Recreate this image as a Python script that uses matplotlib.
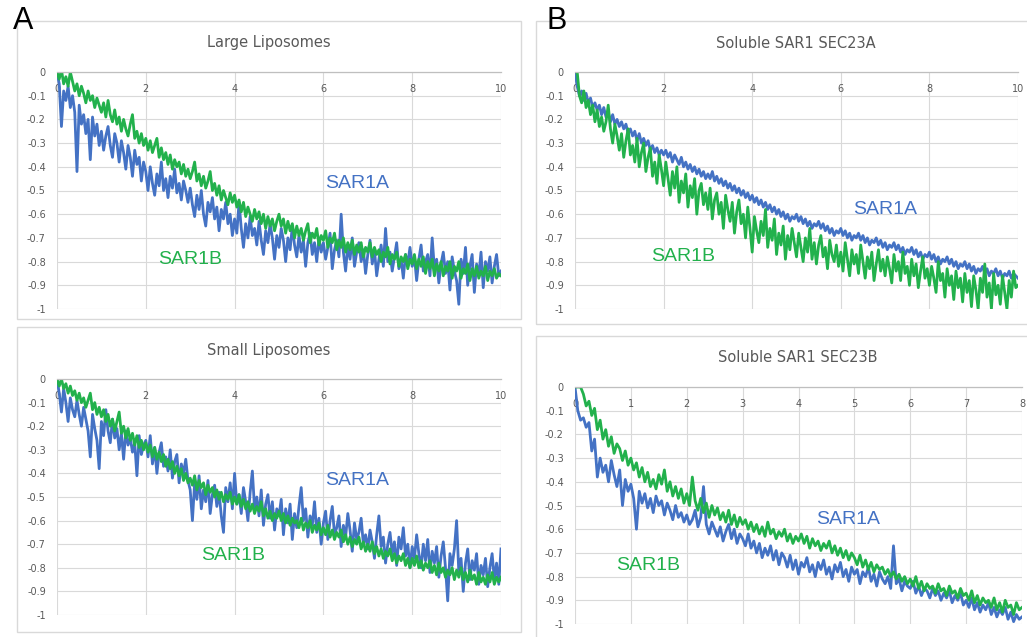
import numpy as np
import matplotlib.pyplot as plt
from matplotlib.patches import Rectangle

BLUE = '#4472c4'
GREEN = '#22b14c'
GREY = '#595959'
GRID = '#d9d9d9'

W, H = 1027, 637

# readings every 0.05 min; one row = one minute

# Large liposomes, 0-10 min
large_sar1a = [
    0.00, -0.05, -0.23, -0.08, -0.12, -0.06, -0.15, -0.10, -0.17, -0.42, -0.14, -0.22, -0.18, -0.26, -0.20, -0.37, -0.19, -0.27, -0.22, -0.31,
    -0.25, -0.33, -0.27, -0.23, -0.31, -0.36, -0.26, -0.30, -0.38, -0.29, -0.34, -0.41, -0.31, -0.36, -0.44, -0.33, -0.39, -0.36, -0.46, -0.38,
    -0.42, -0.50, -0.40, -0.47, -0.52, -0.43, -0.48, -0.38, -0.50, -0.45, -0.53, -0.44, -0.49, -0.41, -0.51, -0.47, -0.54, -0.46, -0.50, -0.55,
    -0.49, -0.56, -0.61, -0.52, -0.58, -0.50, -0.60, -0.65, -0.55, -0.59, -0.53, -0.62, -0.57, -0.67, -0.58, -0.62, -0.55, -0.64, -0.60, -0.69,
    -0.62, -0.68, -0.55, -0.66, -0.74, -0.64, -0.70, -0.61, -0.69, -0.66, -0.73, -0.63, -0.71, -0.77, -0.67, -0.72, -0.64, -0.70, -0.79, -0.69,
    -0.74, -0.66, -0.71, -0.80, -0.70, -0.75, -0.65, -0.73, -0.78, -0.69, -0.76, -0.71, -0.82, -0.72, -0.68, -0.77, -0.72, -0.80, -0.70, -0.76,
    -0.72, -0.79, -0.74, -0.68, -0.83, -0.75, -0.71, -0.78, -0.60, -0.76, -0.84, -0.73, -0.79, -0.70, -0.82, -0.76, -0.72, -0.80, -0.75, -0.85,
    -0.77, -0.71, -0.81, -0.75, -0.86, -0.79, -0.73, -0.82, -0.66, -0.80, -0.76, -0.84, -0.78, -0.72, -0.83, -0.79, -0.87, -0.77, -0.81, -0.74,
    -0.82, -0.78, -0.88, -0.79, -0.73, -0.84, -0.80, -0.77, -0.86, -0.70, -0.83, -0.79, -0.89, -0.81, -0.76, -0.85, -0.80, -0.92, -0.78, -0.84,
    -0.88, -0.98, -0.79, -0.85, -0.74, -0.90, -0.82, -0.77, -0.93, -0.81, -0.86, -0.76, -0.91, -0.80, -0.84, -0.78, -0.89, -0.82, -0.77, -0.86,
    -0.84]
large_sar1b = [
    0.00, -0.03, 0.01, -0.05, -0.02, -0.06, 0.00, -0.04, -0.08, -0.05, -0.10, -0.06, -0.09, -0.13, -0.08, -0.12, -0.10, -0.15, -0.11, -0.14,
    -0.17, -0.13, -0.19, -0.12, -0.18, -0.21, -0.16, -0.22, -0.19, -0.25, -0.20, -0.24, -0.27, -0.22, -0.18, -0.28, -0.25, -0.30, -0.26, -0.31,
    -0.28, -0.33, -0.29, -0.34, -0.31, -0.28, -0.36, -0.32, -0.37, -0.34, -0.39, -0.35, -0.41, -0.37, -0.40, -0.38, -0.43, -0.39, -0.44, -0.41,
    -0.45, -0.42, -0.38, -0.46, -0.43, -0.48, -0.44, -0.49, -0.46, -0.42, -0.50, -0.47, -0.52, -0.48, -0.54, -0.50, -0.53, -0.56, -0.51, -0.55,
    -0.52, -0.57, -0.54, -0.59, -0.55, -0.61, -0.57, -0.60, -0.63, -0.58, -0.62, -0.59, -0.64, -0.60, -0.66, -0.61, -0.65, -0.62, -0.67, -0.63,
    -0.60, -0.65, -0.62, -0.68, -0.63, -0.67, -0.64, -0.70, -0.65, -0.69, -0.66, -0.71, -0.67, -0.64, -0.72, -0.68, -0.70, -0.66, -0.73, -0.69,
    -0.71, -0.67, -0.74, -0.70, -0.72, -0.68, -0.75, -0.71, -0.74, -0.70, -0.76, -0.72, -0.75, -0.71, -0.77, -0.73, -0.76, -0.72, -0.78, -0.74,
    -0.76, -0.72, -0.78, -0.74, -0.77, -0.75, -0.80, -0.76, -0.78, -0.74, -0.81, -0.77, -0.79, -0.76, -0.82, -0.78, -0.80, -0.77, -0.83, -0.79,
    -0.81, -0.77, -0.83, -0.79, -0.82, -0.78, -0.85, -0.80, -0.83, -0.79, -0.86, -0.81, -0.84, -0.80, -0.86, -0.82, -0.84, -0.80, -0.87, -0.82,
    -0.84, -0.80, -0.87, -0.83, -0.85, -0.81, -0.88, -0.83, -0.86, -0.82, -0.87, -0.84, -0.86, -0.82, -0.88, -0.84, -0.86, -0.83, -0.87, -0.85,
    -0.86]

# Small liposomes, 0-10 min
small_sar1a = [
    0.00, -0.06, -0.14, -0.04, -0.10, -0.18, -0.08, -0.13, -0.16, -0.09, -0.15, -0.20, -0.12, -0.17, -0.22, -0.33, -0.15, -0.21, -0.26, -0.38,
    -0.18, -0.24, -0.13, -0.22, -0.27, -0.17, -0.25, -0.21, -0.30, -0.23, -0.34, -0.22, -0.28, -0.25, -0.31, -0.27, -0.41, -0.24, -0.32, -0.28,
    -0.26, -0.33, -0.24, -0.36, -0.29, -0.40, -0.31, -0.27, -0.37, -0.33, -0.39, -0.30, -0.42, -0.35, -0.32, -0.44, -0.36, -0.40, -0.34, -0.43,
    -0.47, -0.60, -0.44, -0.51, -0.41, -0.55, -0.47, -0.52, -0.43, -0.57, -0.49, -0.45, -0.54, -0.48, -0.58, -0.65, -0.46, -0.52, -0.44, -0.55,
    -0.40, -0.53, -0.49, -0.57, -0.46, -0.52, -0.60, -0.48, -0.39, -0.55, -0.50, -0.58, -0.47, -0.62, -0.53, -0.49, -0.59, -0.52, -0.64, -0.55,
    -0.58, -0.51, -0.66, -0.55, -0.61, -0.53, -0.68, -0.57, -0.63, -0.54, -0.46, -0.60, -0.55, -0.67, -0.58, -0.62, -0.52, -0.65, -0.59, -0.70,
    -0.61, -0.56, -0.68, -0.60, -0.54, -0.66, -0.63, -0.58, -0.71, -0.62, -0.67, -0.57, -0.64, -0.73, -0.61, -0.68, -0.65, -0.59, -0.70, -0.66,
    -0.72, -0.64, -0.69, -0.76, -0.66, -0.58, -0.71, -0.67, -0.78, -0.70, -0.65, -0.74, -0.69, -0.79, -0.67, -0.72, -0.63, -0.75, -0.70, -0.80,
    -0.71, -0.76, -0.66, -0.74, -0.80, -0.70, -0.77, -0.68, -0.82, -0.73, -0.78, -0.71, -0.84, -0.75, -0.69, -0.80, -0.94, -0.74, -0.79, -0.72,
    -0.60, -0.82, -0.76, -0.90, -0.78, -0.72, -0.85, -0.77, -0.81, -0.74, -0.87, -0.79, -0.83, -0.76, -0.88, -0.80, -0.74, -0.85, -0.78, -0.87,
    -0.72]
small_sar1b = [
    0.00, -0.03, 0.00, -0.04, -0.02, -0.06, -0.03, -0.07, -0.05, -0.09, -0.06, -0.10, -0.08, -0.12, -0.09, -0.06, -0.13, -0.10, -0.15, -0.12,
    -0.16, -0.13, -0.18, -0.15, -0.20, -0.17, -0.22, -0.18, -0.14, -0.23, -0.20, -0.25, -0.21, -0.26, -0.23, -0.28, -0.24, -0.29, -0.26, -0.30,
    -0.27, -0.31, -0.28, -0.33, -0.29, -0.34, -0.31, -0.35, -0.32, -0.37, -0.34, -0.38, -0.35, -0.40, -0.37, -0.41, -0.38, -0.43, -0.40, -0.44,
    -0.42, -0.45, -0.41, -0.47, -0.43, -0.46, -0.44, -0.49, -0.45, -0.48, -0.46, -0.50, -0.47, -0.51, -0.48, -0.52, -0.49, -0.51, -0.48, -0.53,
    -0.50, -0.53, -0.49, -0.54, -0.51, -0.55, -0.52, -0.56, -0.53, -0.57, -0.54, -0.56, -0.52, -0.58, -0.55, -0.59, -0.56, -0.60, -0.57, -0.59,
    -0.56, -0.60, -0.57, -0.61, -0.58, -0.62, -0.59, -0.61, -0.60, -0.63, -0.59, -0.64, -0.61, -0.63, -0.60, -0.65, -0.62, -0.64, -0.61, -0.66,
    -0.63, -0.66, -0.62, -0.67, -0.64, -0.68, -0.65, -0.67, -0.64, -0.69, -0.66, -0.70, -0.67, -0.71, -0.68, -0.70, -0.67, -0.72, -0.69, -0.73,
    -0.70, -0.73, -0.69, -0.74, -0.71, -0.75, -0.72, -0.76, -0.73, -0.75, -0.72, -0.77, -0.74, -0.78, -0.75, -0.77, -0.74, -0.79, -0.76, -0.80,
    -0.76, -0.79, -0.75, -0.80, -0.77, -0.81, -0.78, -0.80, -0.77, -0.82, -0.79, -0.83, -0.78, -0.82, -0.80, -0.84, -0.81, -0.83, -0.80, -0.85,
    -0.81, -0.84, -0.80, -0.85, -0.82, -0.86, -0.81, -0.85, -0.83, -0.87, -0.82, -0.86, -0.84, -0.87, -0.83, -0.86, -0.82, -0.87, -0.84, -0.86,
    -0.84]

# Soluble SAR1 + SEC23A, 0-10 min
sec23a_sar1a = [
    0.00, -0.06, -0.10, -0.08, -0.12, -0.09, -0.13, -0.11, -0.15, -0.13, -0.16, -0.14, -0.18, -0.15, -0.19, -0.17, -0.21, -0.18, -0.22, -0.20,
    -0.23, -0.21, -0.24, -0.22, -0.26, -0.24, -0.27, -0.25, -0.29, -0.26, -0.30, -0.28, -0.31, -0.29, -0.33, -0.31, -0.34, -0.32, -0.35, -0.33,
    -0.35, -0.33, -0.36, -0.34, -0.38, -0.35, -0.37, -0.39, -0.36, -0.40, -0.38, -0.41, -0.39, -0.42, -0.40, -0.43, -0.41, -0.44, -0.42, -0.45,
    -0.43, -0.45, -0.42, -0.46, -0.44, -0.47, -0.45, -0.48, -0.46, -0.49, -0.47, -0.50, -0.48, -0.51, -0.49, -0.52, -0.50, -0.53, -0.51, -0.54,
    -0.52, -0.55, -0.53, -0.56, -0.54, -0.57, -0.55, -0.58, -0.56, -0.59, -0.57, -0.60, -0.58, -0.61, -0.59, -0.62, -0.60, -0.63, -0.61, -0.62,
    -0.60, -0.63, -0.61, -0.64, -0.62, -0.65, -0.63, -0.66, -0.64, -0.65, -0.63, -0.66, -0.64, -0.67, -0.65, -0.68, -0.66, -0.69, -0.67, -0.68,
    -0.66, -0.69, -0.67, -0.70, -0.68, -0.71, -0.69, -0.70, -0.68, -0.71, -0.69, -0.72, -0.70, -0.73, -0.71, -0.72, -0.70, -0.73, -0.71, -0.74,
    -0.72, -0.75, -0.73, -0.74, -0.72, -0.75, -0.73, -0.76, -0.74, -0.77, -0.75, -0.76, -0.74, -0.77, -0.75, -0.78, -0.76, -0.79, -0.77, -0.78,
    -0.76, -0.79, -0.77, -0.80, -0.78, -0.81, -0.79, -0.80, -0.78, -0.81, -0.79, -0.82, -0.80, -0.83, -0.81, -0.82, -0.80, -0.83, -0.81, -0.84,
    -0.82, -0.85, -0.83, -0.84, -0.82, -0.85, -0.83, -0.86, -0.84, -0.85, -0.83, -0.86, -0.84, -0.87, -0.85, -0.86, -0.84, -0.87, -0.85, -0.86,
    -0.87]
sec23a_sar1b = [
    0.00, 0.00, -0.10, -0.13, -0.08, -0.15, -0.12, -0.18, -0.14, -0.21, -0.16, -0.23, -0.19, -0.25, -0.21, -0.14, -0.24, -0.30, -0.22, -0.27,
    -0.33, -0.26, -0.36, -0.29, -0.24, -0.35, -0.31, -0.38, -0.28, -0.40, -0.34, -0.30, -0.42, -0.36, -0.32, -0.44, -0.38, -0.47, -0.35, -0.41,
    -0.48, -0.38, -0.45, -0.52, -0.42, -0.49, -0.40, -0.55, -0.46, -0.51, -0.43, -0.57, -0.48, -0.53, -0.45, -0.60, -0.50, -0.47, -0.56, -0.51,
    -0.58, -0.49, -0.62, -0.54, -0.51, -0.60, -0.55, -0.66, -0.52, -0.58, -0.63, -0.55, -0.68, -0.59, -0.54, -0.64, -0.60, -0.70, -0.57, -0.66,
    -0.76, -0.61, -0.67, -0.72, -0.63, -0.69, -0.58, -0.74, -0.66, -0.71, -0.62, -0.77, -0.68, -0.73, -0.65, -0.79, -0.69, -0.75, -0.66, -0.72,
    -0.78, -0.68, -0.74, -0.80, -0.70, -0.76, -0.66, -0.79, -0.72, -0.81, -0.73, -0.69, -0.78, -0.74, -0.83, -0.71, -0.77, -0.80, -0.73, -0.82,
    -0.76, -0.84, -0.72, -0.79, -0.86, -0.75, -0.81, -0.77, -0.85, -0.73, -0.80, -0.87, -0.78, -0.83, -0.76, -0.88, -0.81, -0.75, -0.84, -0.79,
    -0.86, -0.78, -0.83, -0.89, -0.77, -0.84, -0.80, -0.88, -0.76, -0.85, -0.82, -0.90, -0.79, -0.86, -0.81, -0.91, -0.84, -0.78, -0.87, -0.83,
    -0.90, -0.82, -0.87, -0.93, -0.80, -0.88, -0.85, -0.95, -0.83, -0.90, -0.86, -0.96, -0.84, -0.91, -0.87, -0.97, -0.85, -0.93, -0.88, -0.99,
    -0.86, -0.92, -1.00, -0.87, -0.93, -0.81, -0.95, -0.89, -1.00, -0.85, -0.94, -0.90, -0.98, -0.86, -0.93, -1.00, -0.88, -0.95, -0.84, -0.91,
    -0.90]

# Soluble SAR1 + SEC23B, 0-8 min
sec23b_sar1a = [
    0.00, -0.10, -0.14, -0.13, -0.17, -0.15, -0.27, -0.22, -0.38, -0.30, -0.36, -0.33, -0.40, -0.31, -0.37, -0.42, -0.35, -0.50, -0.39, -0.44,
    -0.41, -0.47, -0.60, -0.44, -0.49, -0.45, -0.51, -0.47, -0.53, -0.46, -0.50, -0.48, -0.54, -0.49, -0.52, -0.56, -0.50, -0.55, -0.53, -0.57,
    -0.54, -0.58, -0.56, -0.52, -0.59, -0.55, -0.42, -0.58, -0.62, -0.57, -0.60, -0.63, -0.59, -0.65, -0.61, -0.58, -0.64, -0.60, -0.66, -0.62,
    -0.64, -0.67, -0.62, -0.68, -0.65, -0.70, -0.66, -0.72, -0.68, -0.71, -0.67, -0.73, -0.69, -0.75, -0.70, -0.72, -0.76, -0.71, -0.77, -0.73,
    -0.79, -0.74, -0.76, -0.72, -0.78, -0.75, -0.80, -0.74, -0.77, -0.73, -0.79, -0.76, -0.81, -0.75, -0.78, -0.74, -0.80, -0.77, -0.82, -0.76,
    -0.79, -0.77, -0.83, -0.78, -0.80, -0.76, -0.82, -0.79, -0.84, -0.78, -0.81, -0.83, -0.80, -0.85, -0.67, -0.83, -0.81, -0.86, -0.82, -0.84,
    -0.85, -0.82, -0.87, -0.84, -0.88, -0.85, -0.86, -0.89, -0.85, -0.88, -0.86, -0.90, -0.87, -0.89, -0.86, -0.91, -0.88, -0.90, -0.87, -0.92,
    -0.90, -0.93, -0.89, -0.94, -0.91, -0.95, -0.92, -0.94, -0.91, -0.96, -0.93, -0.97, -0.94, -0.96, -0.93, -0.98, -0.95, -0.99, -0.96, -0.98,
    -0.97]
sec23b_sar1b = [
    0.00, 0.00, 0.00, -0.03, -0.08, -0.06, -0.12, -0.09, -0.18, -0.14, -0.22, -0.18, -0.25, -0.21, -0.28, -0.24, -0.26, -0.31, -0.27, -0.33,
    -0.30, -0.35, -0.32, -0.38, -0.34, -0.40, -0.36, -0.42, -0.39, -0.43, -0.37, -0.41, -0.35, -0.44, -0.40, -0.46, -0.42, -0.47, -0.43, -0.49,
    -0.45, -0.50, -0.38, -0.48, -0.52, -0.47, -0.53, -0.49, -0.55, -0.50, -0.54, -0.51, -0.56, -0.53, -0.57, -0.52, -0.58, -0.54, -0.59, -0.55,
    -0.58, -0.56, -0.60, -0.57, -0.61, -0.58, -0.62, -0.59, -0.63, -0.57, -0.62, -0.60, -0.64, -0.61, -0.63, -0.60, -0.65, -0.62, -0.66, -0.63,
    -0.65, -0.62, -0.66, -0.63, -0.68, -0.64, -0.67, -0.65, -0.69, -0.66, -0.68, -0.65, -0.70, -0.67, -0.71, -0.68, -0.72, -0.69, -0.73, -0.70,
    -0.72, -0.75, -0.71, -0.76, -0.73, -0.77, -0.74, -0.78, -0.75, -0.77, -0.76, -0.79, -0.77, -0.80, -0.78, -0.81, -0.79, -0.82, -0.80, -0.83,
    -0.81, -0.84, -0.80, -0.85, -0.82, -0.86, -0.83, -0.85, -0.84, -0.87, -0.83, -0.86, -0.85, -0.88, -0.84, -0.87, -0.86, -0.89, -0.85, -0.88,
    -0.87, -0.90, -0.86, -0.91, -0.88, -0.92, -0.89, -0.91, -0.90, -0.93, -0.89, -0.94, -0.91, -0.95, -0.90, -0.93, -0.92, -0.96, -0.91, -0.94,
    -0.93]

yticks = [0, -0.1, -0.2, -0.3, -0.4, -0.5, -0.6, -0.7, -0.8, -0.9, -1]
ylabels = ['0', '-0.1', '-0.2', '-0.3', '-0.4', '-0.5', '-0.6', '-0.7', '-0.8', '-0.9', '-1']

fig = plt.figure(figsize=(W / 100, H / 100), dpi=100)


def frame(x0, y0, x1, y1):
    # chart-area border, given in pixels from top-left
    fig.patches.append(Rectangle((x0 / W, 1 - y1 / H), (x1 - x0) / W, (y1 - y0) / H,
                                 transform=fig.transFigure, fill=False,
                                 ec=GRID, lw=1))


def panel(px, a, b, title, title_xy, xticks, lab_a, lab_b):
    x0, y0, x1, y1 = px
    tmax = xticks[-1]
    ax = fig.add_axes([x0 / W, 1 - y1 / H, (x1 - x0) / W, (y1 - y0) / H])
    ax.plot(np.linspace(0, tmax, len(a)), a, color=BLUE, lw=2.0)
    ax.plot(np.linspace(0, tmax, len(b)), b, color=GREEN, lw=2.0)
    ax.set_xlim(0, tmax)
    ax.set_ylim(-1, 0)
    ax.set_xticks(xticks)
    ax.set_xticklabels([str(v) for v in xticks])
    ax.set_yticks(yticks)
    ax.set_yticklabels(ylabels)
    ax.grid(True, color=GRID, lw=0.8)
    ax.set_axisbelow(True)
    for s in ['left', 'right', 'bottom']:
        ax.spines[s].set_visible(False)
    ax.spines['top'].set_color('#bfbfbf')
    ax.spines['top'].set_linewidth(0.9)
    ax.xaxis.tick_top()
    ax.tick_params(axis='x', length=0, pad=-16, labelsize=7, labelcolor=GREY)
    ax.tick_params(axis='y', length=0, pad=8, labelsize=7, labelcolor=GREY)
    fig.text(title_xy[0] / W, 1 - title_xy[1] / H, title, ha='center', va='center',
             fontsize=10.5, color=GREY)
    ax.text(lab_a[0], lab_a[1], 'SAR1A', color=BLUE, fontsize=14,
            family='Liberation Sans', ha='center', va='center')
    ax.text(lab_b[0], lab_b[1], 'SAR1B', color=GREEN, fontsize=14,
            family='Liberation Sans', ha='center', va='center')
    return ax


frame(17, 21, 521, 319)
frame(17, 327, 521, 632)
frame(536, 21, 1030, 324)
frame(536, 336, 1030, 640)

panel((57, 72, 501, 309), large_sar1a, large_sar1b, 'Large Liposomes', (269, 43),
      [0, 2, 4, 6, 8, 10], (6.76, -0.47), (3.0, -0.79))
panel((57, 379, 501, 615), small_sar1a, small_sar1b, 'Small Liposomes', (269, 350),
      [0, 2, 4, 6, 8, 10], (6.76, -0.43), (3.96, -0.75))
panel((575, 72, 1018, 309), sec23a_sar1a, sec23a_sar1b, 'Soluble SAR1 SEC23A', (796, 43),
      [0, 2, 4, 6, 8, 10], (7.0, -0.58), (2.44, -0.78))
panel((575, 387, 1022, 624), sec23b_sar1a, sec23b_sar1b, 'Soluble SAR1 SEC23B', (798, 358),
      [0, 1, 2, 3, 4, 5, 6, 7, 8], (4.88, -0.56), (1.31, -0.755))

fig.text(23 / W, 1 - 21 / H, 'A', fontsize=22, ha='center', va='center',
         family='Liberation Sans')
fig.text(557 / W, 1 - 21 / H, 'B', fontsize=22, ha='center', va='center',
         family='Liberation Sans')

fig.savefig('out.png', dpi=100)
